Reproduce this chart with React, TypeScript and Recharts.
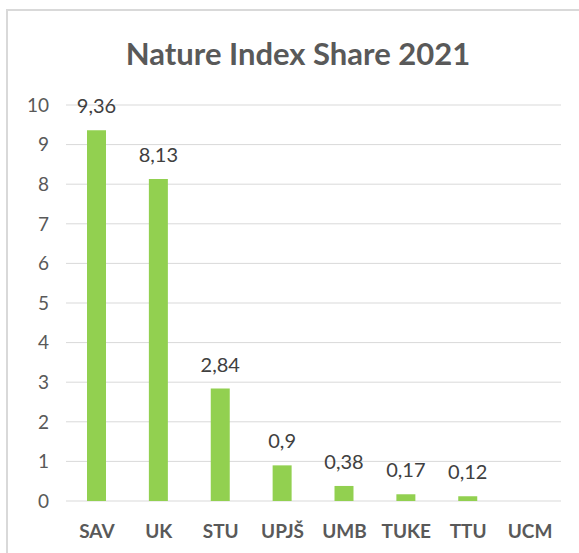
import React from "react";
import { BarChart, Bar, XAxis, YAxis, CartesianGrid, LabelList } from "recharts";

const categories = ["SAV", "UK", "STU", "UPJŠ", "UMB", "TUKE", "TTU", "UCM"];
const shares = [9.36, 8.13, 2.84, 0.9, 0.38, 0.17, 0.12, 0];
const yTicks = [0, 1, 2, 3, 4, 5, 6, 7, 8, 9, 10];
const title = "Nature Index Share 2021";

const data = categories.map((name, i) => ({ name, value: shares[i] }));

const FONT = "Lato, 'Open Sans', sans-serif";

export default function App() {
  return (
    <div style={{ position: "absolute", left: 0, top: 0, width: 579, height: 553, overflow: "hidden", background: "#fff" }}>
      <div style={{ position: "absolute", left: 6, top: 9, width: 640, height: 640, border: "2px solid #d9d9d9", boxSizing: "border-box" }} />
      <div style={{ position: "absolute", left: 0, width: 596, top: 35, textAlign: "center", fontFamily: FONT, fontWeight: 700, fontSize: 31, color: "#595959", lineHeight: "36px", whiteSpace: "nowrap" }}>
        {title}
      </div>
      <div style={{ position: "absolute", left: 0, top: 0 }}>
        <BarChart width={579} height={553} data={data} margin={{ top: 105, right: 18, bottom: 12, left: 0 }}>
          <CartesianGrid vertical={false} stroke="#d9d9d9" strokeWidth={1} />
          <XAxis
            dataKey="name"
            axisLine={false}
            tickLine={false}
            tickSize={0}
            tickMargin={24}
            height={40}
            interval={0}
            tick={{ fill: "#595959", fontSize: 19, fontWeight: 700, fontFamily: FONT }}
          />
          <YAxis
            domain={[0, 10]}
            ticks={yTicks}
            axisLine={false}
            tickLine={false}
            tickSize={0}
            tickMargin={17}
            width={66}
            tick={{ fill: "#595959", fontSize: 19, fontFamily: FONT }}
          />
          <Bar dataKey="value" fill="#92d050" barSize={19} isAnimationActive={false}>
            <LabelList
              dataKey="value"
              position="top"
              offset={17}
              formatter={(v: number) => (v === 0 ? "" : String(v).replace(".", ","))}
              style={{ fill: "#404040", fontSize: 20, fontFamily: FONT }}
            />
          </Bar>
        </BarChart>
      </div>
    </div>
  );
}
